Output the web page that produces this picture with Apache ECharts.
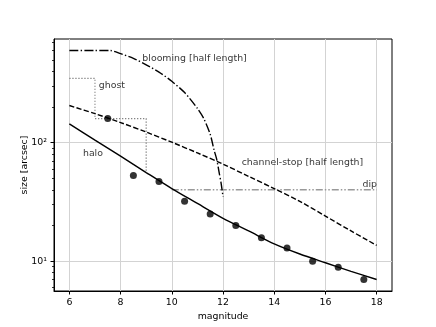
<!DOCTYPE html>
<html><head><meta charset="utf-8">
<script src="https://cdn.jsdelivr.net/npm/echarts@6/dist/echarts.min.js"></script>
<style>html,body{margin:0;padding:0;background:#fff}#c{width:436px;height:327px}</style>
</head><body><div id="c"></div>
<script>
const haloX = [6,7,8,9,10,11,12,13,14,15,16,17,18];
const haloY = [144,105,77,56,41,30.7,23,18,14,11.5,9.7,8.2,7.0];
const channelX = [6,7,8,9,10,11,12,13,14,15,16,17,18];
const channelY = [206,176,148,123,101,82,66,52,41,32,24,18,13.6];
const bloomingX = [6,7,7.6,8,8.5,9,9.5,10,10.5,11,11.25,11.5,11.65,11.75,11.85,11.93,12];
const bloomingY = [600,600,600,565,515,455,395,330,265,195,160,118,87,73,56,45,35];
const ghostX = [6,7,7,9,9];
const ghostY = [350,350,160,160,56];
const dipX = [10,18];
const dipY = [40,40];
const pointsX = [7.5,8.5,9.5,10.5,11.5,12.5,13.5,14.5,15.5,16.5,17.5];
const pointsY = [160,53,47,32,25,20,15.8,12.9,10,8.9,7.0];
const xTicks = [6,8,10,12,14,16,18];
const yMajorTicks = [10,100];
const yMinorTicks = [6,7,8,9,20,30,40,50,60,70,80,90,200,300,400,500,600,700];
const labelTexts = ['blooming [half length]','ghost','halo','channel-stop [half length]','dip'];
const labelX = [8.85,7.15,6.53,12.73,17.45];
const labelY = [509,304,81.3,67.8,44.7];

const FONT = 'DejaVu Sans';
const FS = 9.4;
const zip = (xs, ys) => xs.map((x, i) => [x, ys[i]]);
const sup = {1:'\u00b9',2:'\u00b2',3:'\u00b3'};

const chart = echarts.init(document.getElementById('c'), null, {renderer:'canvas'});
const lineSeries = (data, color, type, width, smooth) => ({
  type:'line', data, symbol:'none', smooth:smooth || false, animation:false,
  lineStyle:{color, width, type, cap:'butt'}, silent:true, z:3
});
chart.setOption({
  animation:false,
  grid:{left:54, top:39, width:338, height:252, show:true, borderColor:'#000', borderWidth:1, backgroundColor:'transparent', containLabel:false},
  xAxis:{
    type:'value', min:5.4, max:18.6,
    name:'magnitude', nameLocation:'middle', nameGap:20,
    nameTextStyle:{fontFamily:FONT, fontSize:FS, color:'#000'},
    axisLine:{show:true, onZero:false, lineStyle:{color:'#000', width:1}},
    axisTick:{show:true, length:3.5, customValues:xTicks, lineStyle:{color:'#000'}},
    axisLabel:{show:true, customValues:xTicks, margin:7, fontFamily:FONT, fontSize:FS, color:'#000'},
    splitLine:{show:true, lineStyle:{color:'#d3d3d3', width:1}}
  },
  yAxis:[{
    type:'log', logBase:10, min:5.6, max:751, position:'left',
    name:'size [arcsec]', nameLocation:'middle', nameGap:25, nameMoveOverlap:false,
    nameTextStyle:{fontFamily:FONT, fontSize:FS, color:'#000'},
    axisLine:{show:true, onZero:false, lineStyle:{color:'#000', width:1}},
    axisTick:{show:true, length:3.5, customValues:yMajorTicks, lineStyle:{color:'#000'}},
    axisLabel:{show:true, customValues:yMajorTicks, margin:7, fontFamily:FONT, fontSize:FS, color:'#000',
      formatter:v => '10' + sup[Math.round(Math.log10(v))]},
    splitLine:{show:true, lineStyle:{color:'#d3d3d3', width:1}},
    minorTick:{show:false}
  },{
    type:'log', logBase:10, min:5.6, max:751, position:'left', offset:0,
    axisLine:{show:false},
    axisTick:{show:true, length:2, customValues:yMinorTicks, lineStyle:{color:'#000', width:0.8}},
    axisLabel:{show:false},
    splitLine:{show:false}
  }],
  series:[
    lineSeries(zip(ghostX, ghostY), '#777', [1.2,1.8], 1.2),
    lineSeries(zip(dipX, dipY), '#999', [7,2,1.5,2,1.5,2], 1.5),
    lineSeries(zip(bloomingX, bloomingY), '#000', [9,2.3,1.4,2.3], 1.4, 0.25),
    lineSeries(zip(channelX, channelY), '#000', [5.2,2.3], 1.4, 0.3),
    lineSeries(zip(haloX, haloY), '#000', 'solid', 1.4, 0.3),
    {type:'scatter', data:zip(pointsX, pointsY), symbol:'circle', symbolSize:7,
      itemStyle:{color:'#000'}, silent:true, z:4},
    {type:'scatter', symbolSize:0, silent:true, z:5,
      data:labelTexts.map((t, i) => ({name:t, value:[labelX[i], labelY[i]]})),
      label:{show:true, position:'right', distance:0, formatter:p => p.name,
        fontFamily:FONT, fontSize:FS, color:'#000'}}
  ]
});
</script></body></html>
